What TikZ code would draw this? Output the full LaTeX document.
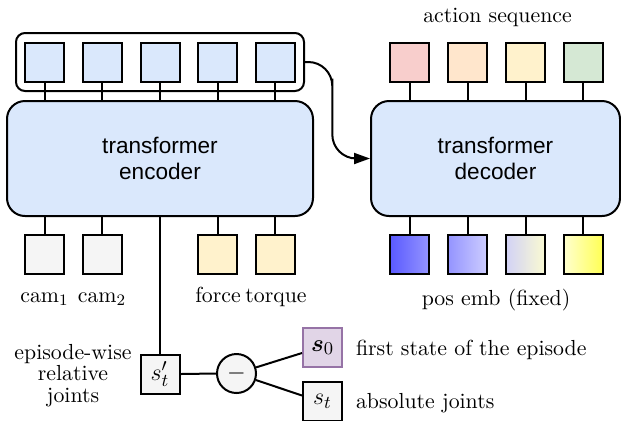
\documentclass[tikz,border=0pt]{standalone}
\usepackage{fontspec}
\newfontfamily\sansf{Liberation Sans}
\usepackage{bm}
\usetikzlibrary{arrows.meta,calc}
\definecolor{blueF}{HTML}{DAE8FC}
\definecolor{grayF}{HTML}{F5F5F5}
\definecolor{yelF}{HTML}{FFF2CC}
\definecolor{pinkF}{HTML}{F8CECC}
\definecolor{oranF}{HTML}{FFE6CC}
\definecolor{greenF}{HTML}{D5E8D4}
\definecolor{purF}{HTML}{E1D5E7}
\definecolor{purD}{HTML}{9673A6}
\definecolor{pA}{HTML}{5A5AFF}
\definecolor{pB}{HTML}{9494FF}
\definecolor{pC}{HTML}{CDCDFF}
\definecolor{pD}{HTML}{D2D2F6}
\definecolor{pE}{HTML}{FAFAD2}
\definecolor{pF}{HTML}{FFFFD0}
\definecolor{pG}{HTML}{FFFF55}
\begin{document}
\begin{tikzpicture}[x=0.5pt,y=-0.5pt,line width=1pt,
  font=\fontsize{10.9}{13}\selectfont,
  sq/.style={draw, minimum size=19.5pt, inner sep=0pt},
  mathsq/.style={sq, font=\fontsize{12.5}{14}\selectfont},
  blk/.style={draw, rounded corners=9pt, fill=blueF, minimum height=57.5pt,
    align=center, font=\sansf\fontsize{11.3}{13}\selectfont},
  lbl/.style={inner sep=0pt}]
\useasboundingbox (0,0) rectangle (621,420);

% top container and tokens
\node[draw, rounded corners=4.5pt, minimum width=144pt, minimum height=29pt] (cont) at (160,62) {};
\foreach \i/\x in {1/44.5,2/102,3/160,4/217.5,5/275}
  \node[sq, fill=blueF] (t\i) at (\x,62.5) {};

% encoder / decoder
\node[blk, minimum width=153pt] (enc) at (160,158.5) {transformer\\encoder};
\node[blk, minimum width=124.5pt] (dec) at (495.5,158.5) {transformer\\decoder};

\foreach \i in {1,...,5}
  \draw (t\i.south) -- (t\i.south |- enc.north);

% action sequence
\node[sq, fill=pinkF]  (a1) at (409.5,62) {};
\node[sq, fill=oranF]  (a2) at (467.5,62) {};
\node[sq, fill=yelF]   (a3) at (525.5,62) {};
\node[sq, fill=greenF] (a4) at (583,62) {};
\node[lbl, anchor=base] (actlbl) at (497.5,22) {action sequence};
\foreach \i in {1,...,4}
  \draw (a\i.south) -- (a\i.south |- dec.north);

% arrow encoder tokens -> decoder
\coordinate (mid) at ($(cont.east)!0.42!(dec.west)$);
\draw[rounded corners=12pt, -{Triangle[length=8pt,width=5.5pt]}]
  (cont.east) -| (mid) |- (dec.west);

% encoder inputs below
\node[sq, fill=grayF] (c1) at (44.5,254.5) {};
\node[sq, fill=grayF] (c2) at (102,254.5) {};
\node[sq, fill=yelF]  (f1) at (217.5,254.5) {};
\node[sq, fill=yelF]  (f2) at (275,254.5) {};
\foreach \n in {c1,c2,f1,f2}
  \draw (\n.north) -- (\n.north |- enc.south);
\node[lbl, anchor=base] (c1l) at (44.5,302) {cam$_1$};
\node[lbl, anchor=base] (c2l) at (102,302) {cam$_2$};
\node[lbl, anchor=base] (f1l) at (218,302) {force};
\node[lbl, anchor=base] (f2l) at (276,302) {torque};

% decoder pos emb
\node[sq, left color=pA, right color=pB] (p1) at (409.5,254.5) {};
\node[sq, left color=pB, right color=pC] (p2) at (467.5,254.5) {};
\node[sq, left color=pD, right color=pE] (p3) at (525.5,254.5) {};
\node[sq, left color=pF, right color=pG] (p4) at (583,254.5) {};
\foreach \i in {1,...,4}
  \draw (p\i.north) -- (p\i.north |- dec.south);
\node[lbl, anchor=base] (poslbl) at (496,305) {pos emb (fixed)};

% relative joints
\node[mathsq, fill=grayF] (srel) at (160,374) {$s'_t$};
\draw (enc.south -| srel) -- (srel.north);
\node[lbl, align=center, font=\fontsize{10.9}{10.6}\selectfont] (rellbl) at (73,375.5) {episode-wise\\relative\\joints};
\node[draw, circle, fill=grayF, minimum size=19.5pt, inner sep=0pt, font=\fontsize{12.5}{14}\selectfont] (minus) at (236.5,373.5) {$-$};
\node[mathsq, fill=purF, draw=purD] (s0) at (322.5,347.5) {$\bm{s}_0$};
\node[mathsq, fill=grayF] (st) at (322.5,401.5) {$s_t$};
\draw (srel.east) -- (minus.west);
\draw (minus) -- ([yshift=-2.75pt]s0.west);
\draw (minus) -- ([yshift=3pt]st.west);
\node[lbl, anchor=base west] (s0l) at (355,355) {first state of the episode};
\node[lbl, anchor=base west] (stl) at (355,408) {absolute joints};
\end{tikzpicture}
\end{document}
